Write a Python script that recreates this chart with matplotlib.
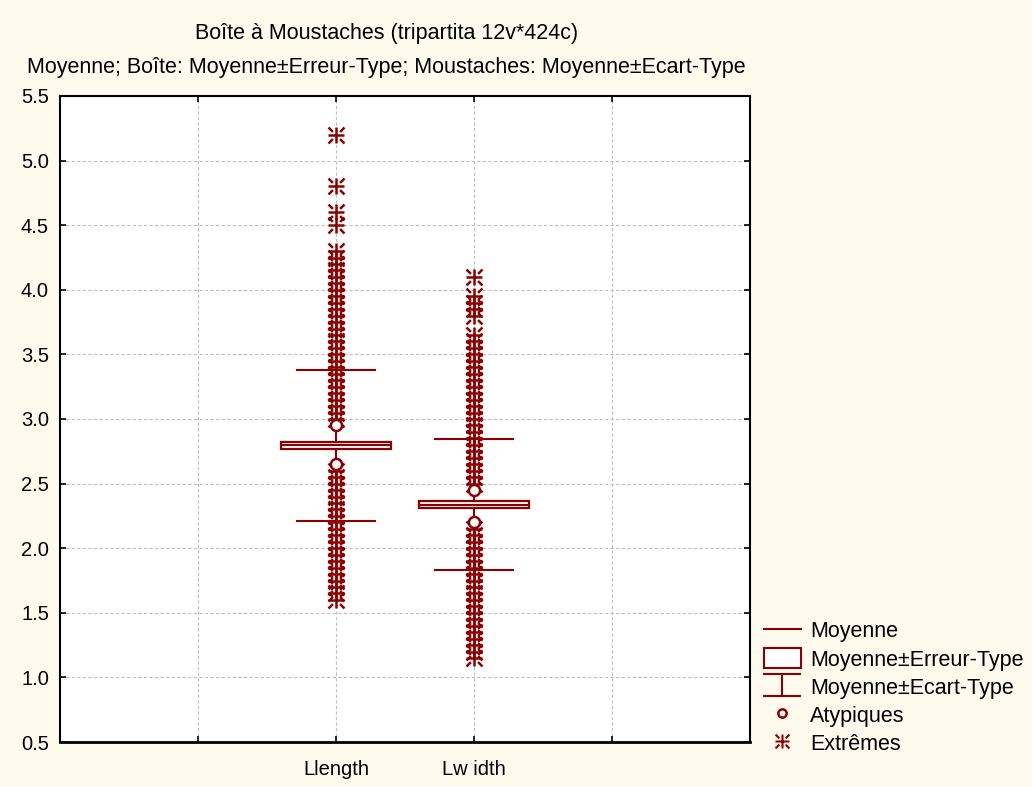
import matplotlib
matplotlib.use("Agg")
import matplotlib.pyplot as plt
from matplotlib.path import Path
from matplotlib.lines import Line2D
from matplotlib.patches import Rectangle, Patch

plt.rcParams['font.family'] = ['Liberation Sans', 'DejaVu Sans']

categories = ["Llength", "Lw idth"]
cat_pos = [2, 3]
means = [2.795, 2.337]
se = [0.028, 0.025]
sd = [0.584, 0.506]

outliers = [
    [2.95, 2.65],
    [2.45, 2.2],
]
extremes = [
    [5.2, 4.8, 4.6, 4.5,
     4.3, 4.25, 4.2, 4.15, 4.1, 4.05, 4.0, 3.95, 3.9, 3.85, 3.8, 3.75, 3.7,
     3.65, 3.6, 3.55, 3.5, 3.45, 3.4, 3.35, 3.3, 3.25, 3.2, 3.15, 3.1, 3.05, 3.0,
     2.6, 2.55, 2.5, 2.45, 2.4, 2.35, 2.3, 2.25, 2.2, 2.15, 2.1, 2.05, 2.0,
     1.95, 1.9, 1.85, 1.8, 1.75, 1.7, 1.65, 1.6],
    [4.1, 3.95, 3.9, 3.85, 3.8,
     3.65, 3.6, 3.55, 3.5, 3.45, 3.4, 3.35, 3.3, 3.25, 3.2, 3.15, 3.1, 3.05,
     3.0, 2.95, 2.9, 2.85, 2.8, 2.75, 2.7, 2.65, 2.6, 2.55, 2.5,
     2.15, 2.1, 2.05, 2.0, 1.95, 1.9, 1.85, 1.8, 1.75, 1.7, 1.65, 1.6, 1.55,
     1.5, 1.45, 1.4, 1.35, 1.3, 1.25, 1.2, 1.15],
]
yticks = [0.5, 1.0, 1.5, 2.0, 2.5, 3.0, 3.5, 4.0, 4.5, 5.0, 5.5]

RED = "#8B0000"
BG = "#FEFAEE"

# custom asterisk marker
verts = [(-1, 0), (1, 0), (0, -1), (0, 1),
         (0.45, 0.45), (1, 1), (-0.45, -0.45), (-1, -1),
         (-0.45, 0.45), (-1, 1), (0.45, -0.45), (1, -1)]
codes = [Path.MOVETO, Path.LINETO] * 6
star = Path(verts, codes)

ibeam = Path([(-1, 0.6), (1, 0.6), (0, 0.6), (0, -0.6), (-1, -0.6), (1, -0.6)],
             [Path.MOVETO, Path.LINETO, Path.MOVETO, Path.LINETO, Path.MOVETO, Path.LINETO])

fig = plt.figure(figsize=(10.32, 7.87), dpi=100, facecolor=BG)
ax = fig.add_axes([60/1032, 1-742/787, 690/1032, 646/787])
ax.set_facecolor("white")

box_half = 0.40
cap_half = 0.28
for i, x in enumerate(cat_pos):
    m, s, d = means[i], se[i], sd[i]
    ax.plot([x, x], [m - d, m + d], color=RED, lw=1.5, zorder=2)
    ax.plot([x - cap_half, x + cap_half], [m + d, m + d], color=RED, lw=1.5, zorder=2)
    ax.plot([x - cap_half, x + cap_half], [m - d, m - d], color=RED, lw=1.5, zorder=2)
    ax.add_patch(Rectangle((x - box_half, m - s), 2 * box_half, 2 * s,
                           facecolor="white", edgecolor=RED, lw=1.6, zorder=3))
    ax.plot([x - box_half, x + box_half], [m, m], color=RED, lw=1.5, zorder=4)
    ax.plot([x] * len(extremes[i]), extremes[i], linestyle="none", marker=star,
            markersize=11.5, markeredgecolor=RED, markeredgewidth=1.8, zorder=5)
    ax.plot([x] * len(outliers[i]), outliers[i], linestyle="none", marker="o",
            markersize=8, markerfacecolor="white", markeredgecolor=RED,
            markeredgewidth=1.8, zorder=5)

ax.set_xlim(0, 5)
ax.set_ylim(0.5, 5.5)
ax.set_yticks(yticks)
ax.set_yticklabels([f"{v:.1f}" for v in yticks])
ax.set_xticks([1, 2, 3, 4])
ax.set_xticklabels(["", categories[0], categories[1], ""])
ax.grid(True, color="#C0C0C0", linestyle=(0, (3, 2)), lw=0.8)
ax.set_axisbelow(True)
ax.tick_params(direction="in", length=4, width=1.2, top=True, right=True,
               labelsize=14.5, pad=8)
ax.tick_params(axis="x", pad=13)
for sp in ax.spines.values():
    sp.set_linewidth(1.5)
ax.spines["bottom"].set_linewidth(2)

FS = 15.5
fig.text(387/1032, 1-33/787, "Boîte à Moustaches (tripartita 12v*424c)",
         ha="center", va="center", fontsize=FS)
fig.text(386/1032, 1-68/787,
         "Moyenne; Boîte: Moyenne±Erreur-Type; Moustaches: Moyenne±Ecart-Type",
         ha="center", va="center", fontsize=FS)

handles = [
    Line2D([], [], color=RED, lw=1.5),
    Patch(facecolor="white", edgecolor=RED, lw=1.5),
    Line2D([], [], linestyle="none", marker=ibeam, markersize=27,
           markeredgecolor=RED, markeredgewidth=1.5),
    Line2D([], [], linestyle="none", marker="o", markersize=6,
           markerfacecolor="white", markeredgecolor=RED, markeredgewidth=1.8),
    Line2D([], [], linestyle="none", marker=star, markersize=10,
           markeredgecolor=RED, markeredgewidth=1.5),
]
labels = ["Moyenne", "Moyenne±Erreur-Type", "Moyenne±Ecart-Type", "Atypiques", "Extrêmes"]
fig.legend(handles, labels, loc="lower left", bbox_to_anchor=(749/1032, 1-770/787),
           frameon=False, fontsize=FS, handlelength=1.7, handleheight=1.0,
           labelspacing=0.285, handletextpad=0.45, borderpad=0.2)

fig.savefig("out.png", dpi=100, facecolor=BG)
